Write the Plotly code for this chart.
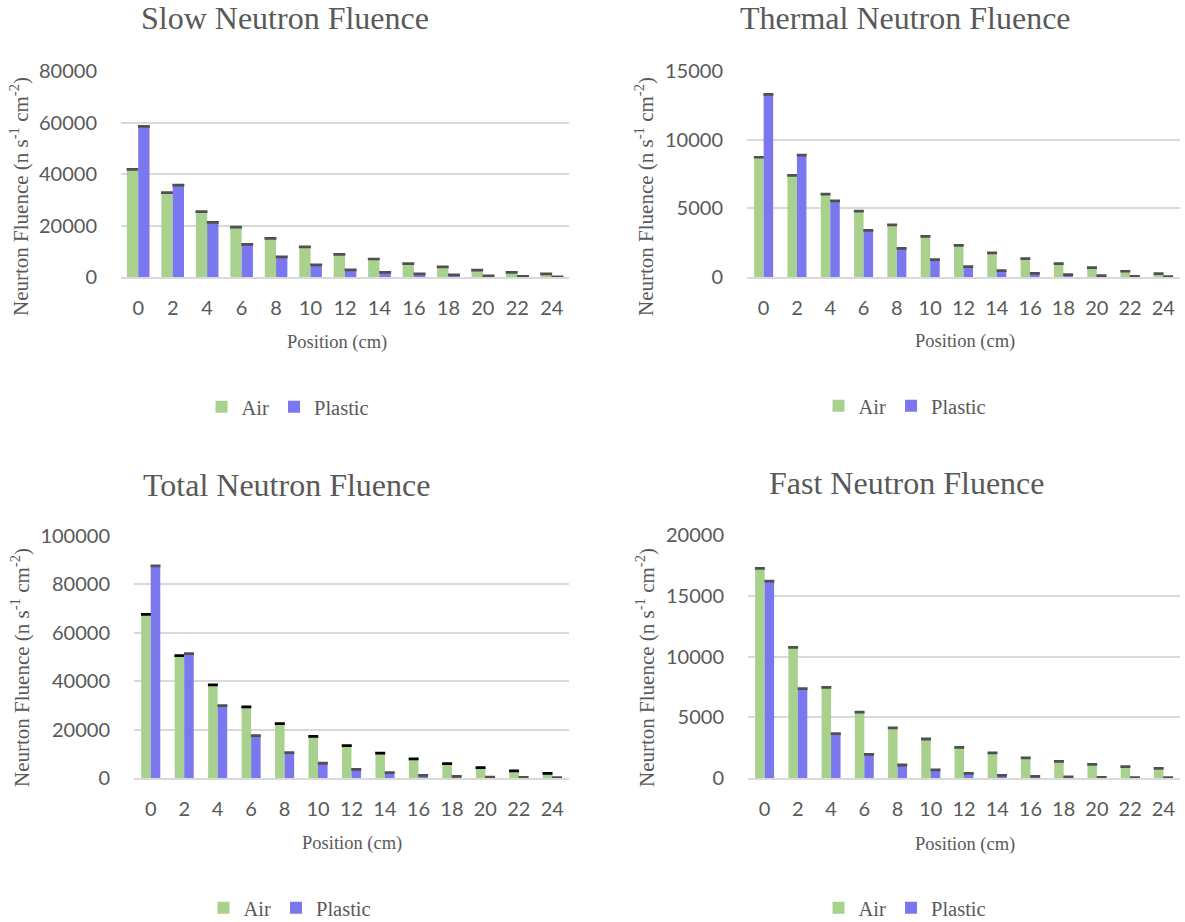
import plotly.graph_objects as go

positions = ["0", "2", "4", "6", "8", "10", "12", "14", "16", "18", "20", "22", "24"]

slow_air = [41800, 32800, 25400, 19400, 15000, 11700, 8800, 7000, 5200, 3900, 2700, 1800, 1200]
slow_plastic = [58500, 35700, 21200, 12700, 7800, 4700, 2800, 1800, 1200, 800, 400, 300, 100]

thermal_air = [8720, 7400, 6030, 4790, 3790, 2960, 2300, 1760, 1340, 980, 680, 420, 240]
thermal_plastic = [13300, 8870, 5550, 3400, 2080, 1270, 760, 460, 270, 170, 100, 50, 30]

total_air = [67600, 50600, 38500, 29400, 22500, 17200, 13400, 10300, 7900, 5900, 4300, 2900, 1900]
total_plastic = [87700, 51400, 29900, 17500, 10500, 6100, 3600, 2200, 1100, 700, 400, 300, 200]

fast_air = [17260, 10750, 7460, 5430, 4120, 3210, 2520, 2060, 1650, 1370, 1120, 930, 800]
fast_plastic = [16200, 7350, 3650, 1950, 1070, 660, 380, 220, 140, 100, 50, 30, 20]

titles = ["Slow Neutron Fluence", "Thermal Neutron Fluence",
          "Total Neutron Fluence", "Fast Neutron Fluence"]
y_max = [80000, 15000, 100000, 20000]
y_dtick = [20000, 5000, 20000, 5000]

GREEN = "#A9D18E"
BLUE = "#7B77EE"
CAP = "#505050"
TEXT = "#595959"
SERIF = "Liberation Serif, Times New Roman, serif"
SANS = "Lato, Open Sans, sans-serif"

W, H = 1185, 922

def px_x(p):
    return p / W

def px_y(p):
    return 1 - p / H

# plot areas in pixels: (x0, x1, ytop, ybottom)
areas = [(121, 569, 71, 277), (747, 1180, 71, 277),
         (134, 569, 536, 778), (748, 1180, 535, 778)]
bar_w = [0.328, 0.285, 0.285, 0.285]
series = [(slow_air, slow_plastic), (thermal_air, thermal_plastic),
          (total_air, total_plastic), (fast_air, fast_plastic)]
air_cap_colors = [CAP, CAP, "#000000", CAP]
title_pos = [(285, 18), (905, 18), (286, 485), (907, 483)]
xtitle_pos = [(337, 342), (965, 341), (352, 843), (965, 844)]
ytitle_pos = [(20, 197), (645, 197), (20, 668), (645, 668)]
legend_pos = [(288, 407), (905, 406), (290, 908), (905, 908)]

fig = go.Figure()
layout = {}
annotations = []

for i in range(4):
    ax = "" if i == 0 else str(i + 1)
    xa, ya = "x" + ax, "y" + ax
    leg = "legend" if i == 0 else "legend" + str(i + 1)
    air, plastic = series[i]
    w = bar_w[i]
    e = y_max[i] * 0.0012
    fig.add_trace(go.Bar(
        x=positions, y=air, name="Air", marker=dict(color=GREEN, line=dict(width=0)),
        width=w, offset=-w, xaxis=xa, yaxis=ya, legend=leg,
        error_y=dict(type="data", array=[e] * len(air), symmetric=True,
                     color=air_cap_colors[i], thickness=2.2, width=6 if i == 0 else 5)))
    fig.add_trace(go.Bar(
        x=positions, y=plastic, name="Plastic", marker=dict(color=BLUE, line=dict(width=0)),
        width=w, offset=0, xaxis=xa, yaxis=ya, legend=leg,
        error_y=dict(type="data", array=[e] * len(plastic), symmetric=True,
                     color=CAP, thickness=2.2, width=6 if i == 0 else 5)))

    x0, x1, yt, yb = areas[i]
    layout["xaxis" + ax] = dict(
        domain=[px_x(x0), px_x(x1)], anchor=ya, type="category",
        showgrid=False, showline=True, linecolor="#D9D9D9", linewidth=1.5,
        ticks="", tickfont=dict(family=SANS, size=20, color=TEXT),
        ticklabelstandoff=12, automargin=False,
        range=[-0.5, 12.5], fixedrange=True)
    layout["yaxis" + ax] = dict(
        domain=[px_y(yb), px_y(yt)], anchor=xa, range=[0, y_max[i]],
        dtick=y_dtick[i], showgrid=True, gridcolor="#D9D9D9", gridwidth=1.5,
        zeroline=False, showline=False, ticks="", tickformat="d", automargin=False,
        tickfont=dict(family=SANS, size=20, color=TEXT), ticklabelstandoff=23,
        fixedrange=True)

    lx, ly = legend_pos[i]
    layout[leg] = dict(
        orientation="h", x=px_x(lx), y=px_y(ly), xanchor="center", yanchor="middle",
        font=dict(family=SERIF, size=20.5, color=TEXT), itemwidth=30,
        bgcolor="rgba(0,0,0,0)", traceorder="normal")

    tx, ty = title_pos[i]
    annotations.append(dict(
        text=titles[i], x=px_x(tx), y=px_y(ty), xref="paper", yref="paper",
        xanchor="center", yanchor="middle", showarrow=False,
        font=dict(family=SERIF, size=32, color=TEXT)))
    qx, qy = xtitle_pos[i]
    annotations.append(dict(
        text="Position (cm)", x=px_x(qx), y=px_y(qy), xref="paper", yref="paper",
        xanchor="center", yanchor="middle", showarrow=False,
        font=dict(family=SERIF, size=18.5, color=TEXT)))
    rx, ry = ytitle_pos[i]
    annotations.append(dict(
        text="Neurton Fluence (n s<sup>-1</sup> cm<sup>-2</sup>)",
        x=px_x(rx), y=px_y(ry), xref="paper", yref="paper", textangle=-90,
        xanchor="center", yanchor="middle", showarrow=False,
        font=dict(family=SERIF, size=21, color=TEXT)))

fig.update_layout(
    width=W, height=H, margin=dict(l=0, r=0, t=0, b=0, autoexpand=False),
    paper_bgcolor="white", plot_bgcolor="white",
    barmode="group", annotations=annotations, **layout)

fig.write_html("out.html", config={"displayModeBar": False},
               post_script="document.body.style.margin='0px';")
